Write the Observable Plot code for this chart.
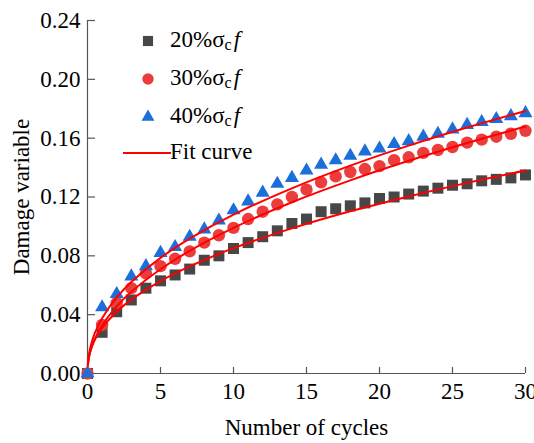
<!DOCTYPE html>
<html><head><meta charset="utf-8">
<script src="https://cdn.jsdelivr.net/npm/d3@7"></script>
<script src="https://cdn.jsdelivr.net/npm/@observablehq/plot@0.6"></script>
<style>
body{margin:0;background:#fff;}
#wrap{position:relative;width:534px;height:443px;font-family:"Liberation Serif","Times New Roman",serif;}
.leg{position:absolute;font-size:23px;line-height:26px;color:#000;white-space:nowrap;}
.leg sub{font-size:16px;vertical-align:-3px;line-height:0;}
.leg i{padding-left:2px;}
</style></head><body><div id="wrap"></div>
<script>
// ---- data ----
const cycles = [0,1,2,3,4,5,6,7,8,9,10,11,12,13,14,15,16,17,18,19,20,21,22,23,24,25,26,27,28,29,30];
const d20 = [0,0.028,0.042,0.050,0.058,0.063,0.067,0.071,0.077,0.080,0.085,0.089,0.093,0.097,0.102,0.105,0.110,0.112,0.114,0.116,0.119,0.120,0.122,0.124,0.126,0.128,0.129,0.131,0.132,0.133,0.135];
const d30 = [0,0.033,0.048,0.058,0.068,0.073,0.078,0.083,0.089,0.094,0.099,0.105,0.110,0.115,0.120,0.125,0.130,0.134,0.137,0.139,0.141,0.145,0.147,0.150,0.152,0.154,0.157,0.159,0.161,0.163,0.165];
const d40 = [0,0.045,0.054,0.066,0.073,0.082,0.086,0.093,0.098,0.104,0.111,0.117,0.123,0.129,0.133,0.138,0.142,0.145,0.148,0.151,0.153,0.156,0.158,0.161,0.163,0.166,0.169,0.171,0.173,0.175,0.177];
const fitX  = [0.02,0.1,0.25,0.5,1,2,3,5,7,10,14,18,22,26,30];
const fit20 = [0.0056,0.0113,0.0169,0.0229,0.0310,0.0420,0.0502,0.0628,0.0728,0.0852,0.0987,0.1103,0.1204,0.1296,0.1380];
const fit30 = [0.0050,0.0108,0.0168,0.0234,0.0327,0.0456,0.0555,0.0709,0.0834,0.0990,0.1164,0.1313,0.1446,0.1567,0.1679];
const fit40 = [0.0063,0.0131,0.0199,0.0274,0.0376,0.0517,0.0622,0.0786,0.0917,0.1080,0.1259,0.1413,0.1549,0.1672,0.1785];
const xTicks = [0,5,10,15,20,25,30];
const yTicks = [0,0.04,0.08,0.12,0.16,0.20,0.24];
const seriesLevels = ["20%","30%","40%"];
const fitLabel = "Fit curve";
const xLabel = "Number of cycles";
const yLabel = "Damage variable";

// ---- styles ----
const seriesColors = ["#474747","#ec3d3d","#1c6fd9"];
const seriesSymbols = ["square","circle","triangle"];
const seriesR = [6.2,6.2,5.2];
const fitColor = "#ff0000";
const axisColor = "#555";

const seriesData = [d20,d30,d40].map(arr => cycles.map((c,i)=>({cycle:c, value:arr[i]})));
const fitData = [fit20,fit30,fit40].map(arr => fitX.map((x,i)=>({x, y:arr[i]})));

const W=534,H=443,ML=87,MR=9,MT=20,MB=70;
const plotW=W-ML-MR, plotH=H-MT-MB;

const marks = [
  Plot.axisX({ticks:xTicks, tickSize:0, tickPadding:9, label:xLabel, labelAnchor:"center", labelOffset:61, labelArrow:"none", fontSize:23}),
  Plot.axisY({ticks:yTicks, tickSize:0, tickPadding:7, tickFormat:d3.format(".2f"), label:yLabel, labelAnchor:"center", labelOffset:75, labelArrow:"none", fontSize:23}),
  Plot.ruleX([0],{stroke:axisColor, strokeWidth:1.2}),
  Plot.ruleY([0],{stroke:axisColor, strokeWidth:1.2}),
  Plot.tickY(yTicks,{y:d=>d, insetRight:plotW-8, stroke:axisColor, strokeWidth:1.2}),
  Plot.tickX(xTicks,{x:d=>d, insetTop:plotH-6, stroke:axisColor, strokeWidth:1.2})
];
seriesData.forEach((data,k)=>{
  marks.push(Plot.dot(data,{x:"cycle", y:"value", symbol:()=>seriesSymbols[k], fill:seriesColors[k], r:seriesR[k], stroke:"none"}));
});
fitData.forEach(data=>{
  marks.push(Plot.line(data,{x:"x", y:"y", stroke:fitColor, strokeWidth:2, curve:"catmull-rom"}));
});

const chart = Plot.plot({
  width:W, height:H, marginLeft:ML, marginRight:MR, marginTop:MT, marginBottom:MB,
  style:{fontFamily:"'Liberation Serif','Times New Roman',serif", fontSize:"23px", color:"#000", background:"transparent", overflow:"visible"},
  x:{domain:[0,30]},
  y:{domain:[0,0.24]},
  symbol:{type:"identity"},
  marks
});
const wrap = document.getElementById("wrap");
wrap.appendChild(chart);

// ---- legend (overlay) ----
const rowY=[41,79,117];
seriesLevels.forEach((lev,k)=>{
  const s = 16;
  const svg = d3.create("svg").attr("width",s).attr("height",s)
    .style("position","absolute").style("left",(148-s/2)+"px").style("top",(rowY[k]-s/2)+"px");
  const sym = d3.symbol(k===0?d3.symbolSquare:k===1?d3.symbolCircle:d3.symbolTriangle, Math.PI*seriesR[k]*seriesR[k]*0.85);
  svg.append("path").attr("d",sym()).attr("transform",`translate(${s/2},${s/2})`).attr("fill",seriesColors[k]);
  wrap.appendChild(svg.node());
  const t = document.createElement("div");
  t.className="leg";
  t.style.left="170px"; t.style.top=(rowY[k]-14)+"px";
  t.innerHTML = lev + "σ<sub>c</sub><i>f</i>";
  wrap.appendChild(t);
});
const fy=153;
const ln = d3.create("svg").attr("width",50).attr("height",4)
  .style("position","absolute").style("left","123px").style("top",(fy-2)+"px");
ln.append("line").attr("x1",0).attr("x2",48).attr("y1",2).attr("y2",2).attr("stroke",fitColor).attr("stroke-width",2);
wrap.appendChild(ln.node());
const ft = document.createElement("div");
ft.className="leg"; ft.style.left="170px"; ft.style.top=(fy-14)+"px";
ft.textContent = fitLabel;
wrap.appendChild(ft);
</script>
</body></html>
